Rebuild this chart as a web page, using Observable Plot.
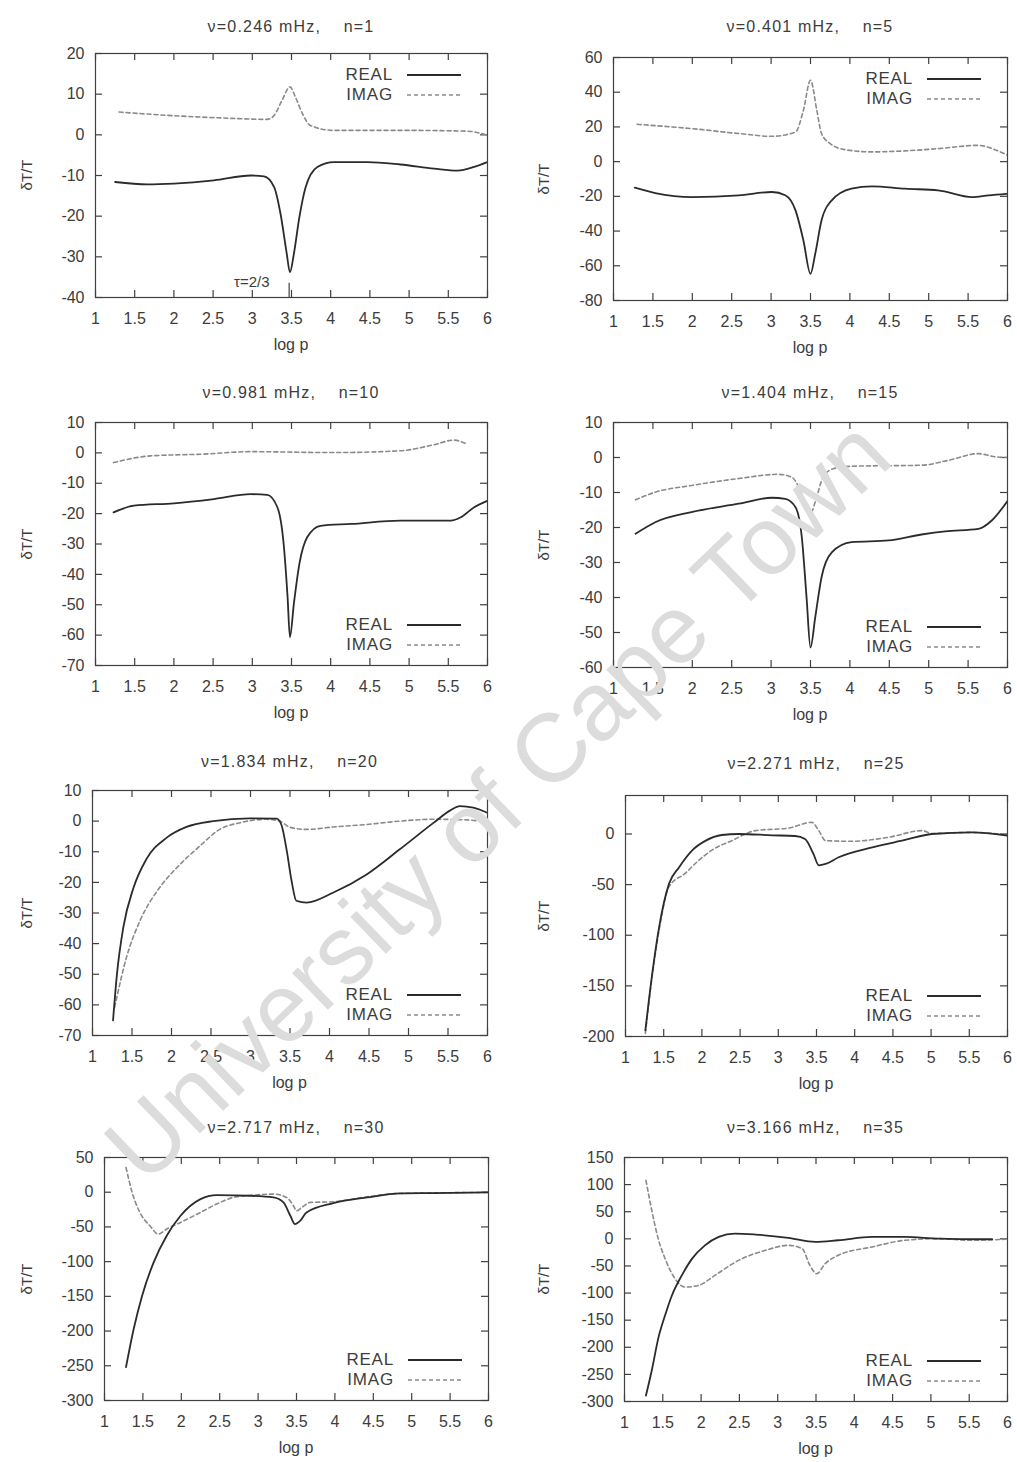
<!DOCTYPE html>
<html>
<head>
<meta charset="utf-8">
<script src="https://cdn.jsdelivr.net/npm/d3@7"></script>
<script src="https://cdn.jsdelivr.net/npm/@observablehq/plot@0.6"></script>
<style>
  body { margin: 0; background: #fff; font-family: "Liberation Sans", Arial, sans-serif; }
  #page { position: relative; width: 1017px; height: 1462px; overflow: hidden; background: #fff; }
  .wm { position: absolute; white-space: nowrap; font-size: 97px; line-height: 1; color: #dcdcdc; transform: translate(-50%, -50%) rotate(-44deg); pointer-events: none; z-index: 5; }
  .chart { position: absolute; z-index: 1; }
  .title { position: absolute; white-space: pre; font-size: 16px; letter-spacing: 1.2px; color: #3c3c3c; transform: translate(-50%, -50%); z-index: 2; }
  .ylab { position: absolute; font-size: 15px; color: #3c3c3c; transform: translate(-50%, -50%) rotate(-90deg); z-index: 2; white-space: nowrap; }
  .xlab { position: absolute; font-size: 16px; color: #3c3c3c; transform: translate(-50%, -50%); z-index: 2; white-space: nowrap; }
  .legend { position: absolute; z-index: 2; }
  .legend .row { display: flex; justify-content: flex-end; align-items: center; height: 20px; font-size: 17px; letter-spacing: 0.8px; color: #3c3c3c; }
  .legend .row svg { margin-left: 14px; }
</style>
</head>
<body>
<div id="page"></div>
<script>
// ---------------- data ----------------
const xTicks = [1, 1.5, 2, 2.5, 3, 3.5, 4, 4.5, 5, 5.5, 6];

const titles = [
  "ν=0.246 mHz,    n=1",
  "ν=0.401 mHz,    n=5",
  "ν=0.981 mHz,    n=10",
  "ν=1.404 mHz,    n=15",
  "ν=1.834 mHz,    n=20",
  "ν=2.271 mHz,    n=25",
  "ν=2.717 mHz,    n=30",
  "ν=3.166 mHz,    n=35"
];

const yDomains = [[-40, 20], [-80, 60], [-70, 10], [-60, 10], [-70, 10], [-200, 38], [-300, 50], [-300, 150]];

const yTicks1 = [-40, -30, -20, -10, 0, 10, 20];
const yTicks2 = [-80, -60, -40, -20, 0, 20, 40, 60];
const yTicks3 = [-70, -60, -50, -40, -30, -20, -10, 0, 10];
const yTicks4 = [-60, -50, -40, -30, -20, -10, 0, 10];
const yTicks5 = [-70, -60, -50, -40, -30, -20, -10, 0, 10];
const yTicks6 = [-200, -150, -100, -50, 0];
const yTicks7 = [-300, -250, -200, -150, -100, -50, 0, 50];
const yTicks8 = [-300, -250, -200, -150, -100, -50, 0, 50, 100, 150];

// [log p, dT/T]
const p1Real = [[1.25,-11.6],[1.66,-12.2],[2.0,-12.0],[2.51,-11.2],[2.98,-10.0],[3.15,-10.2],[3.28,-12.9],[3.36,-19.4],[3.44,-29.3],[3.48,-33.8],[3.53,-29.3],[3.6,-20.3],[3.68,-12.9],[3.83,-7.9],[4.04,-6.7],[4.47,-6.7],[4.89,-7.3],[5.32,-8.3],[5.62,-8.8],[5.83,-7.9],[6.0,-6.7]];
const p1Imag = [[1.3,5.6],[1.91,4.8],[2.55,4.2],[3.19,3.8],[3.28,4.8],[3.38,8.5],[3.48,11.8],[3.55,9.3],[3.64,5.2],[3.74,2.3],[4.04,1.1],[4.89,1.1],[5.74,0.9],[6.0,-0.1]];

const p2Real = [[1.27,-15],[1.53,-18.1],[2.0,-20.4],[2.59,-19.4],[3.01,-17.5],[3.18,-19.4],[3.31,-28.1],[3.41,-45.4],[3.5,-64.6],[3.56,-53.1],[3.64,-33.8],[3.77,-22.3],[4.02,-15.6],[4.28,-14.2],[4.7,-15.6],[5.12,-16.5],[5.55,-20.4],[5.76,-19.4],[6.0,-18.5]];
const p2Imag = [[1.3,21.5],[2.0,19],[2.59,16.2],[3.01,14.6],[3.31,17.1],[3.41,29.6],[3.5,46.9],[3.58,29.6],[3.64,16.2],[3.75,10.4],[3.94,6.9],[4.28,5.6],[4.7,6.2],[5.12,7.5],[5.63,9.4],[5.84,6.9],[6.0,3.7]];

const p3Real = [[1.23,-19.6],[1.49,-17.4],[2.0,-16.6],[2.51,-15.2],[2.98,-13.6],[3.19,-13.8],[3.32,-17.9],[3.4,-30],[3.45,-47.5],[3.48,-60.7],[3.53,-49.7],[3.6,-36.6],[3.7,-27.8],[3.87,-24],[4.26,-23.4],[4.89,-22.3],[5.53,-22.3],[5.66,-21.2],[5.83,-17.9],[6.0,-15.8]];
const p3Imag = [[1.23,-3.2],[1.7,-1.0],[2.38,-0.4],[2.98,0.4],[4.04,0.1],[4.89,0.7],[5.32,2.7],[5.57,4.2],[5.72,3.1]];

const p4Real = [[1.28,-21.8],[1.53,-18.5],[1.99,-15.6],[2.59,-13.2],[3.01,-11.5],[3.18,-11.8],[3.31,-14.2],[3.39,-22.8],[3.45,-40],[3.5,-54.3],[3.56,-45.7],[3.64,-34.2],[3.77,-27.1],[4.02,-24.2],[4.49,-23.7],[4.91,-22],[5.21,-21.1],[5.63,-20.4],[5.8,-18],[6.0,-12.4]];
const p4Imag = [[1.28,-12.1],[1.53,-9.9],[1.99,-8.0],[2.59,-6.0],[3.09,-4.8],[3.26,-5.6],[3.37,-9.4],[3.45,-14.2],[3.5,-16.1],[3.56,-12.7],[3.66,-5.6],[3.79,-3.2],[4.02,-2.5],[4.91,-2.2],[5.25,-0.8],[5.63,1.1],[5.84,0.2],[6.0,0]];

const p5Real = [[1.26,-65.1],[1.31,-49.9],[1.39,-34.7],[1.52,-21.7],[1.68,-12.5],[1.94,-5.4],[2.19,-1.9],[2.53,0],[2.99,0.9],[3.33,0.8],[3.39,-1.1],[3.46,-9.8],[3.52,-19.5],[3.58,-26],[3.71,-26.6],[4.05,-23.3],[4.47,-17.4],[4.89,-9.2],[5.32,-0.5],[5.53,3.5],[5.65,4.9],[5.82,4.4],[6.0,2.7]];
const p5Imag = [[1.28,-60.8],[1.43,-44.5],[1.6,-32.6],[1.85,-21.7],[2.11,-14.1],[2.36,-8.1],[2.61,-2.7],[2.87,-0.5],[3.2,0.6],[3.37,0],[3.5,-2.0],[3.71,-2.7],[4.05,-1.9],[4.47,-1.1],[4.89,0],[5.32,0.6],[5.74,0.4],[5.95,-0.2]];

const p6Real = [[1.26,-194],[1.35,-138],[1.44,-92],[1.57,-49],[1.7,-33],[1.87,-16.4],[2.05,-6.6],[2.26,-1],[2.48,0],[2.92,-1.3],[3.22,-2],[3.35,-4.9],[3.46,-19.7],[3.53,-31],[3.62,-29.6],[3.79,-23],[4.23,-13.2],[4.66,-5.9],[5.01,0],[5.53,1.6],[6.0,-1.6]];
const p6Imag = [[1.26,-197],[1.35,-140],[1.44,-95],[1.57,-52],[1.78,-39],[1.96,-26],[2.13,-16],[2.39,-6.6],[2.7,3.3],[3.14,5.9],[3.44,11.5],[3.53,3.3],[3.62,-6.6],[3.96,-7.2],[4.44,-3.3],[4.88,3.3],[5.01,0.5],[5.53,1.6],[6.0,-1]];

const p7Real = [[1.28,-252],[1.38,-197],[1.49,-149],[1.64,-101],[1.81,-62.7],[1.99,-33.9],[2.25,-9.9],[2.46,-4.2],[2.9,-5.1],[3.2,-7.5],[3.33,-14.7],[3.42,-33.9],[3.48,-45.9],[3.55,-41],[3.63,-29.1],[3.98,-15.7],[4.42,-7.5],[4.85,-1.8],[5.28,-1.3],[6.0,-0.3]];
const p7Imag = [[1.28,35.6],[1.36,-0.3],[1.46,-29],[1.59,-48.3],[1.7,-60.3],[1.81,-53],[1.99,-43.5],[2.25,-29.1],[2.46,-17.1],[2.68,-7.5],[2.94,-4.2],[3.2,-2.7],[3.37,-7.5],[3.46,-19.5],[3.5,-26.7],[3.57,-21.9],[3.68,-14.7],[3.98,-13.8],[4.42,-6.6],[4.85,-1.8],[6.0,-0.3]];

const p8Real = [[1.28,-289],[1.36,-240],[1.44,-184],[1.53,-141],[1.62,-104],[1.75,-67],[1.88,-37],[2.05,-12],[2.23,3.6],[2.44,9.7],[2.71,7.9],[3.14,1.7],[3.49,-5.7],[3.79,-2.6],[4.23,3.5],[4.66,3.5],[5.1,0.4],[5.8,-0.8]];
const p8Imag = [[1.28,108],[1.36,49.6],[1.44,0.4],[1.53,-36.6],[1.66,-73.5],[1.79,-89],[1.97,-85.8],[2.18,-67.4],[2.49,-39.7],[2.84,-21.2],[3.14,-12],[3.32,-18.1],[3.42,-49],[3.51,-64.3],[3.62,-45.8],[3.79,-30.4],[4.23,-15],[4.66,-2.7],[5.1,0.4],[5.53,-2.7],[5.97,-0.8]];

const seriesNames = ["REAL", "IMAG"];
const annotationText = [{panel: 0, x: 3.22, y: -36.3, text: "τ=2/3"}];
const annotationRule = [{panel: 0, x: 3.47, y1: -40, y2: -36.5}];
const watermark = "University of Cape Town";

// ---------------- layout ----------------
const yTickSets = [yTicks1, yTicks2, yTicks3, yTicks4, yTicks5, yTicks6, yTicks7, yTicks8];
const realSeries = [p1Real, p2Real, p3Real, p4Real, p5Real, p6Real, p7Real, p8Real];
const imagSeries = [p1Imag, p2Imag, p3Imag, p4Imag, p5Imag, p6Imag, p7Imag, p8Imag];
const frames = [
  {l: 95, r: 487, t: 53, b: 297},
  {l: 613, r: 1007, t: 57, b: 300},
  {l: 95, r: 487, t: 422, b: 665},
  {l: 613, r: 1007, t: 422, b: 667},
  {l: 92, r: 487, t: 790, b: 1035},
  {l: 625, r: 1007, t: 795, b: 1036},
  {l: 104, r: 488, t: 1157, b: 1400},
  {l: 624, r: 1007, t: 1157, b: 1401}
];
const legendSide = ["top", "top", "bottom", "bottom", "bottom", "bottom", "bottom", "bottom"];
const titleY = [27, 27, 393, 393, 762, 764, 1128, 1128];
const ylabX = [26, 543];

const realStyle = {stroke: "#2b2b2b", strokeWidth: 1.8};
const imagStyle = {stroke: "#8a8a8a", strokeWidth: 1.6, dash: "4,3"};
const axisColor = "#404040";

const page = document.getElementById("page");

const wm = document.createElement("div");
wm.className = "wm";
wm.textContent = watermark;
wm.style.left = "497px";
wm.style.top = "800px";
page.appendChild(wm);

function addDiv(cls, text, x, y) {
  const d = document.createElement("div");
  d.className = cls;
  d.textContent = text;
  d.style.left = x + "px";
  d.style.top = y + "px";
  page.appendChild(d);
  return d;
}

frames.forEach((f, i) => {
  const col = i % 2;
  const W = f.r - f.l, H = f.b - f.t;
  const ML = f.l - col * 505, MR = 8, MT = 10, MB = 60;
  const yt = yTickSets[i];
  const pt = d => d[0], pv = d => d[1];
  const marks = [
    Plot.frame({stroke: axisColor, strokeWidth: 1.2}),
    Plot.tickX(xTicks, {x: d => d, insetTop: H - 7, stroke: axisColor, strokeWidth: 1.2}),
    Plot.tickX(xTicks, {x: d => d, insetBottom: H - 7, stroke: axisColor, strokeWidth: 1.2}),
    Plot.tickY(yt, {y: d => d, insetRight: W - 7, stroke: axisColor, strokeWidth: 1.2}),
    Plot.tickY(yt, {y: d => d, insetLeft: W - 7, stroke: axisColor, strokeWidth: 1.2}),
    Plot.axisX(xTicks, {tickSize: 0, tickPadding: 15, tickFormat: d => String(d), label: null, fill: "#3c3c3c"}),
    Plot.axisY(yt, {tickSize: 0, tickPadding: 11, tickFormat: d => String(d), label: null, fill: "#3c3c3c"}),
    Plot.line(imagSeries[i], {x: pt, y: pv, stroke: imagStyle.stroke, strokeWidth: imagStyle.strokeWidth, strokeDasharray: imagStyle.dash, curve: "monotone-x", clip: true}),
    Plot.line(realSeries[i], {x: pt, y: pv, stroke: realStyle.stroke, strokeWidth: realStyle.strokeWidth, curve: "monotone-x", clip: true}),
    Plot.text(annotationText.filter(a => a.panel === i), {x: "x", y: "y", text: "text", textAnchor: "end", fontSize: 15, fill: "#3c3c3c"}),
    Plot.ruleX(annotationRule.filter(a => a.panel === i), {x: "x", y1: "y1", y2: "y2", stroke: axisColor, strokeWidth: 1.2})
  ];
  const chart = Plot.plot({
    width: W + ML + MR,
    height: H + MT + MB,
    marginLeft: ML, marginRight: MR, marginTop: MT, marginBottom: MB,
    x: {domain: [1, 6]},
    y: {domain: yDomains[i]},
    style: {background: "transparent", fontFamily: "'Liberation Sans', Arial, sans-serif", fontSize: "16px", color: "#3c3c3c", overflow: "visible"},
    marks
  });
  chart.classList.add("chart");
  chart.style.left = (col * 505) + "px";
  chart.style.top = (f.t - MT) + "px";
  page.appendChild(chart);

  addDiv("title", titles[i], (f.l + f.r) / 2, titleY[i]);
  addDiv("ylab", "δT/T", ylabX[col], (f.t + f.b) / 2);
  addDiv("xlab", "log p", (f.l + f.r) / 2, f.b + 48);

  const lg = document.createElement("div");
  lg.className = "legend";
  lg.style.right = (1017 - (f.r - 26)) + "px";
  lg.style.top = (legendSide[i] === "top" ? f.t + 12 : f.b - 50) + "px";
  seriesNames.forEach((name, k) => {
    const st = k === 0 ? realStyle : imagStyle;
    const row = document.createElement("div");
    row.className = "row";
    const sp = document.createElement("span");
    sp.textContent = name;
    row.appendChild(sp);
    const ns = "http://www.w3.org/2000/svg";
    const s = document.createElementNS(ns, "svg");
    s.setAttribute("width", "54"); s.setAttribute("height", "10");
    const ln = document.createElementNS(ns, "line");
    ln.setAttribute("x1", "0"); ln.setAttribute("x2", "54");
    ln.setAttribute("y1", "5"); ln.setAttribute("y2", "5");
    ln.setAttribute("stroke", st.stroke);
    ln.setAttribute("stroke-width", st.strokeWidth);
    if (st.dash) ln.setAttribute("stroke-dasharray", st.dash);
    s.appendChild(ln);
    row.appendChild(s);
    lg.appendChild(row);
  });
  page.appendChild(lg);
});
</script>
</body>
</html>
